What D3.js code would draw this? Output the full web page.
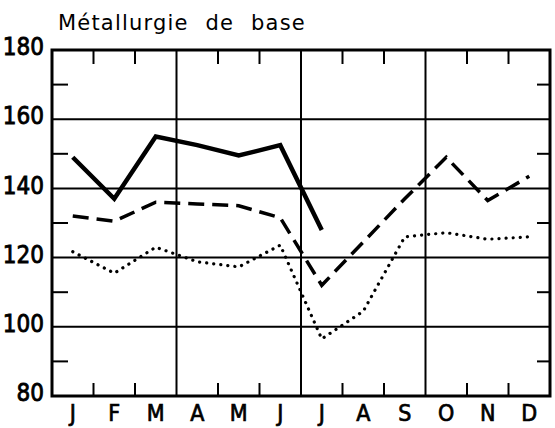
<!DOCTYPE html>
<html><head><meta charset="utf-8">
<script src="https://cdn.jsdelivr.net/npm/d3@7"></script>
<style>
html,body{margin:0;padding:0;background:#fff;}
svg{display:block;}
text{fill:#000;}
</style></head>
<body>
<svg id="c" width="555" height="428"></svg>
<script>
const months = ["J","F","M","A","M","J","J","A","S","O","N","D"];
const solidSeries  = [149, 137, 155, 152.5, 149.5, 152.5, 128];
const dashedSeries = [132, 130.5, 136, 135.5, 135, 131.5, 112, 124.5, 137, 149, 136.5, 143.5];
const dottedSeries = [121.7, 115.5, 123, 118.8, 117.3, 123.6, 96.5, 104.5, 126, 127.2, 125.3, 126];
const yTicks = [80, 100, 120, 140, 160, 180];
const yMinor = [90, 110, 130, 150, 170];
const title = "Métallurgie de base";

const svg = d3.select("#c");
const L = 52, R = 550, T = 50, B = 396;
const idx = d3.range(12);
const x = d3.scaleBand().domain(idx).range([L, R]).padding(0);
const xc = i => x(i) + x.bandwidth() / 2;
const y = d3.scaleLinear().domain([80, 180]).range([B, T]);

const g = svg.append("g");

// horizontal gridlines
g.selectAll("line.hg").data(yTicks.filter(v => v > 80 && v < 180)).join("line")
  .attr("x1", L).attr("x2", R).attr("y1", d => y(d)).attr("y2", d => y(d))
  .attr("stroke", "#000").attr("stroke-width", 2);
// vertical quarter lines
g.selectAll("line.vg").data([3, 6, 9]).join("line")
  .attr("x1", d => x(d)).attr("x2", d => x(d)).attr("y1", T).attr("y2", B)
  .attr("stroke", "#000").attr("stroke-width", 2);
// minor y ticks left & right
g.selectAll("line.yl").data(yMinor).join("line")
  .attr("x1", L).attr("x2", L + 16).attr("y1", d => y(d)).attr("y2", d => y(d))
  .attr("stroke", "#000").attr("stroke-width", 2);
g.selectAll("line.yr").data(yMinor).join("line")
  .attr("x1", R - 13).attr("x2", R).attr("y1", d => y(d)).attr("y2", d => y(d))
  .attr("stroke", "#000").attr("stroke-width", 2);
// month ticks top & bottom
const mt = idx.filter(i => i % 3 !== 0);
g.selectAll("line.mt").data(mt).join("line")
  .attr("x1", d => x(d)).attr("x2", d => x(d)).attr("y1", T).attr("y2", T + 14)
  .attr("stroke", "#000").attr("stroke-width", 2);
g.selectAll("line.mb").data(mt).join("line")
  .attr("x1", d => x(d)).attr("x2", d => x(d)).attr("y1", B - 13).attr("y2", B)
  .attr("stroke", "#000").attr("stroke-width", 2);
// frame
g.append("rect").attr("x", L).attr("y", T).attr("width", R - L).attr("height", B - T)
  .attr("fill", "none").attr("stroke", "#000").attr("stroke-width", 3);

// y axis labels
const ya = svg.append("g").attr("transform", `translate(${L},0)`)
  .call(d3.axisLeft(y).tickValues(yTicks).tickSize(0).tickPadding(8).tickFormat(d3.format("d")));
ya.select(".domain").remove();
ya.selectAll("text").attr("font-family", "'DejaVu Sans', sans-serif")
  .attr("font-stretch", "condensed").attr("font-size", 24).attr("dy", "0.32em")
  .attr("stroke", "#000").attr("stroke-width", 0.8)
  .attr("transform", "translate(0,-3)");

// x axis labels
const xa = svg.append("g").attr("transform", `translate(0,${B})`)
  .call(d3.axisBottom(x).tickSize(0).tickPadding(9).tickFormat(i => months[i]));
xa.select(".domain").remove();
xa.selectAll("text").attr("font-family", "'DejaVu Sans', sans-serif")
  .attr("font-stretch", "condensed").attr("font-size", 23).attr("dy", "0.71em")
  .attr("stroke", "#000").attr("stroke-width", 0.7);

// title
svg.append("text").attr("x", 58).attr("y", 30).text(title)
  .attr("font-family", "'DejaVu Sans', sans-serif").attr("font-size", 21)
  .attr("letter-spacing", 1.2).attr("word-spacing", 9);

// lines
const line = d3.line().x((d, i) => xc(i)).y(d => y(d));
svg.append("path").datum(dottedSeries).attr("d", line)
  .attr("fill", "none").attr("stroke", "#000").attr("stroke-width", 3.2)
  .attr("stroke-dasharray", "0.1 7").attr("stroke-linecap", "round");
svg.append("path").datum(dashedSeries).attr("d", line)
  .attr("fill", "none").attr("stroke", "#000").attr("stroke-width", 3.5)
  .attr("stroke-dasharray", "16 8");
svg.append("path").datum(solidSeries).attr("d", line)
  .attr("fill", "none").attr("stroke", "#000").attr("stroke-width", 4.5)
  .attr("stroke-linejoin", "miter");
</script>
</body></html>
